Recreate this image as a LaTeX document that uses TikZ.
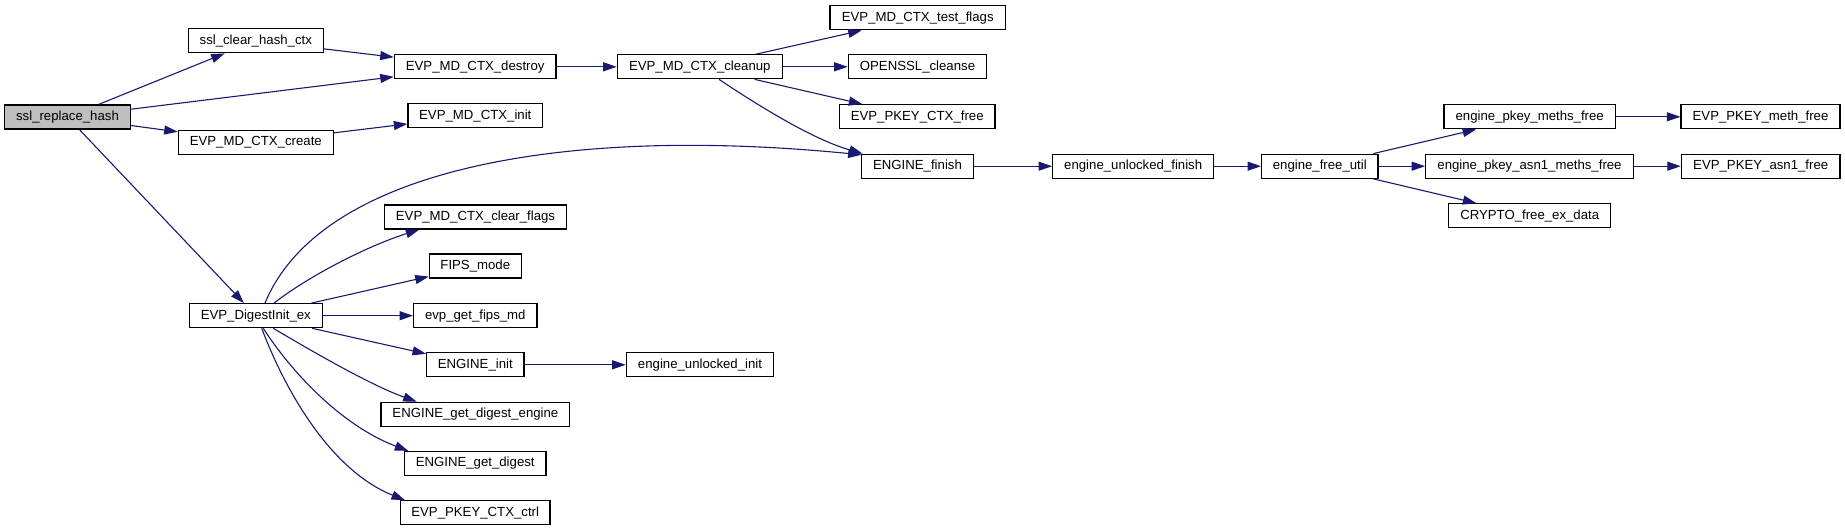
\documentclass[tikz,border=0pt]{standalone}
\usepackage{fontspec}
\setmainfont{Liberation Sans}
\usetikzlibrary{arrows.meta,calc}
\definecolor{edgeblue}{RGB}{25,25,112}
\definecolor{grayfill}{RGB}{191,191,191}
\begin{document}
\begin{tikzpicture}[x=1pt,y=-1pt,
  fn/.style={draw=black,line width=1.2pt,rectangle,minimum height=24pt,inner sep=0pt,
    text height=9.5pt,text depth=2.8pt,font=\fontsize{13.2}{15}\selectfont,fill=white},
  call/.style={draw=edgeblue,line width=1.1pt,-{Triangle[length=13.5pt,width=9pt]}}
]
\useasboundingbox (0,0) rectangle (1845,531);
% nodes
\node[fn,fill=grayfill,minimum width=125.6pt] (srh) at (67.5,117) {ssl\_replace\_hash};
\node[fn,minimum width=135pt] (sch) at (255.8,40.8) {ssl\_clear\_hash\_ctx};
\node[fn,minimum width=155pt] (create) at (255.8,142.3) {EVP\_MD\_CTX\_create};
\node[fn,minimum width=133pt] (dinit) at (255.8,315.7) {EVP\_DigestInit\_ex};
\node[fn,minimum width=161.7pt] (dest) at (475.2,66.8) {EVP\_MD\_CTX\_destroy};
\node[fn,minimum width=134.7pt] (init) at (475.3,115.7) {EVP\_MD\_CTX\_init};
\node[fn,minimum width=182.4pt] (clearflags) at (475.5,217) {EVP\_MD\_CTX\_clear\_flags};
\node[fn,minimum width=92pt] (fips) at (475.3,266) {FIPS\_mode};
\node[fn,minimum width=123.3pt] (egfm) at (475.3,315.7) {evp\_get\_fips\_md};
\node[fn,minimum width=97.3pt] (einit) at (475.3,364.8) {ENGINE\_init};
\node[fn,minimum width=188.8pt] (egde) at (475.4,414.2) {ENGINE\_get\_digest\_engine};
\node[fn,minimum width=141.7pt] (egd) at (475.2,463.5) {ENGINE\_get\_digest};
\node[fn,minimum width=149.7pt] (pctxctrl) at (475.2,512.8) {EVP\_PKEY\_CTX\_ctrl};
\node[fn,minimum width=165pt] (cleanup) at (699.8,66.8) {EVP\_MD\_CTX\_cleanup};
\node[fn,minimum width=147.4pt] (eui) at (700,364.8) {engine\_unlocked\_init};
\node[fn,minimum width=175.3pt] (tflags) at (917.7,17.8) {EVP\_MD\_CTX\_test\_flags};
\node[fn,minimum width=138.4pt] (cleanse) at (917.5,66.8) {OPENSSL\_cleanse};
\node[fn,minimum width=155.7pt] (pctxfree) at (917.2,116.7) {EVP\_PKEY\_CTX\_free};
\node[fn,minimum width=111.6pt] (efinish) at (917.5,166.2) {ENGINE\_finish};
\node[fn,minimum width=161pt] (euf) at (1133.2,166.2) {engine\_unlocked\_finish};
\node[fn,minimum width=116.3pt] (efu) at (1319.8,166.2) {engine\_free\_util};
\node[fn,minimum width=171.3pt] (epmf) at (1529.7,116.8) {engine\_pkey\_meths\_free};
\node[fn,minimum width=207.6pt] (epamf) at (1529.5,166.2) {engine\_pkey\_asn1\_meths\_free};
\node[fn,minimum width=162pt] (cfed) at (1529.7,215.8) {CRYPTO\_free\_ex\_data};
\node[fn,minimum width=159pt] (epmethf) at (1760.5,116.8) {EVP\_PKEY\_meth\_free};
\node[fn,minimum width=158.7pt] (epasn1f) at (1760.7,166.2) {EVP\_PKEY\_asn1\_free};
% straight edges
\draw[call] (srh) -- (sch);
\draw[call] (srh) -- (dest);
\draw[call] (srh) -- (create);
\draw[call] (srh) -- (dinit);
\draw[call] (sch) -- (dest);
\draw[call] (create) -- (init);
\draw[call] (dest) -- (cleanup);
\draw[call] (cleanup) -- (tflags);
\draw[call] (cleanup) -- (cleanse);
\draw[call] (cleanup) -- (pctxfree);
\draw[call] (efinish) -- (euf);
\draw[call] (euf) -- (efu);
\draw[call] (efu) -- (epmf);
\draw[call] (efu) -- (epamf);
\draw[call] (efu) -- (cfed);
\draw[call] (epmf) -- (epmethf);
\draw[call] (epamf) -- (epasn1f);
\draw[call] (dinit) -- (fips);
\draw[call] (dinit) -- (egfm);
\draw[call] (dinit) -- (einit);
\draw[call] (einit) -- (eui);
% curved edges
\draw[call] ($(cleanup.south)+(19.2,0)$) .. controls (765,110) and (815,140) .. ($(efinish.north west)+(1.5,0)$);
\draw[call] ($(dinit.north)+(9.2,0)$) .. controls (320,170) and (560,125) .. ($(efinish.north west)+(0.5,1.2)$);
\draw[call] ($(dinit.north)+(18.2,0)$) .. controls (310,275) and (370,245) .. ($(clearflags.south)+(-56.2,0)$);
\draw[call] ($(dinit.south)+(17.5,0)$) .. controls (310,350) and (370,385) .. ($(egde.north)+(-58.7,0)$);
\draw[call] ($(dinit.south)+(7.5,0)$) .. controls (290,370) and (340,425) .. ($(egd.north)+(-66.9,0)$);
\draw[call] ($(dinit.south)+(5.9,0)$) .. controls (285,390) and (330,470) .. ($(pctxctrl.north)+(-70.2,0)$);
\end{tikzpicture}
\end{document}
